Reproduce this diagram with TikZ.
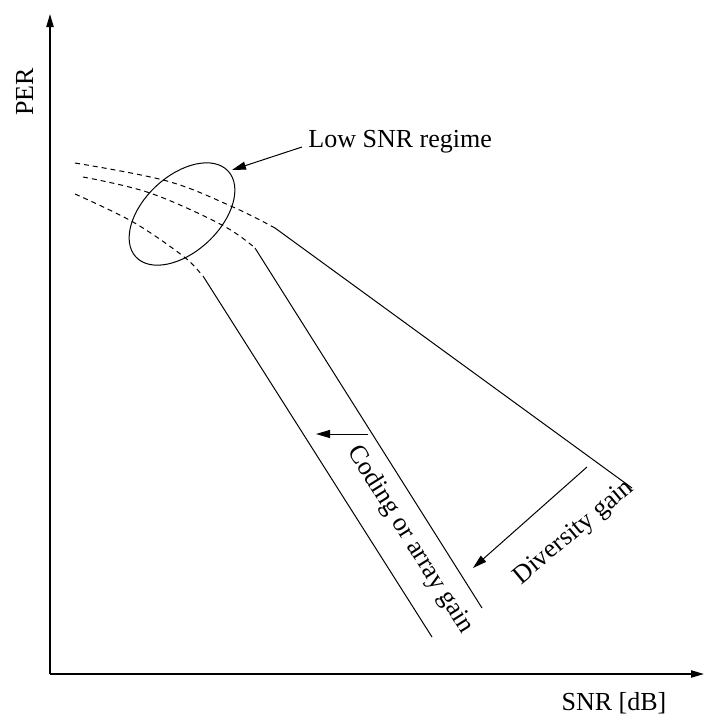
\documentclass[tikz,border=0pt]{standalone}
\usepackage{fontspec}
\setmainfont{Liberation Serif}
\usetikzlibrary{arrows.meta}
\begin{document}
\begin{tikzpicture}[x=0.5pt,y=-0.5pt,
  lbl/.style={inner sep=0pt,font=\fontsize{13}{15}\selectfont},
  thin line/.style={line width=0.5pt},
  dash line/.style={line width=0.5pt,dash pattern=on 2.5pt off 2pt},
  axis/.style={line width=0.8pt,-{Triangle[length=6.5pt,width=3.6pt]}},
  pointer/.style={line width=0.5pt,-{Triangle[length=7pt,width=4pt]}}]
\useasboundingbox (0,0) rectangle (704,714);
% axes
\coordinate (O) at (50,674);
\coordinate (ytop) at (50,14);
\coordinate (xend) at (704,674);
\draw[axis] (O) -- (ytop);
\draw[axis] (O) -- (xend);
\node[lbl,rotate=90,anchor=base] (per) at (33,92) {PER};
\node[lbl,anchor=base] (snr) at (614,710) {SNR [dB]};
% dashed low-SNR curves
\coordinate (a1) at (275,228);
\coordinate (b1) at (255,248);
\coordinate (c1) at (201,274);
\draw[dash line] plot[smooth,tension=0.6] coordinates {(75,163) (167,181) (233,207) (275,228)};
\draw[dash line] plot[smooth,tension=0.6] coordinates {(83,177) (150,193) (222,225) (255,248)};
\draw[dash line] plot[smooth,tension=0.6] coordinates {(75,194) (133,222) (183,256) (201,274)};
% solid lines
\coordinate (a2) at (632,488);
\coordinate (b2) at (482,608);
\coordinate (c0) at (203,276);
\coordinate (c2) at (432,637);
\draw[thin line] (a1) -- (a2);
\draw[thin line] (b1) -- (b2);
\draw[thin line] (c0) -- (c2);
% ellipse
\coordinate (ec) at (182,214);
\draw[thin line,rotate around={43:(ec)}] (ec) ellipse [x radius=63,y radius=38];
% low SNR label
\node[lbl,anchor=base west] (low) at (308,147) {Low SNR regime};
\coordinate (lowstart) at (302,147);
\coordinate (lowtip) at (232,170);
\draw[pointer] (lowstart) -- (lowtip);
% coding gain
\coordinate (cs) at (368,434);
\coordinate (ct) at (316,434);
\draw[pointer] (cs) -- (ct);
\node[lbl,rotate=-58] (coding) at (410,540) {Coding or array gain};
% diversity gain
\coordinate (ds) at (587,467);
\coordinate (dt) at (473,568);
\draw[pointer] (ds) -- (dt);
\node[lbl,rotate=40] (div) at (574,533) {Diversity gain};
\end{tikzpicture}
\end{document}
